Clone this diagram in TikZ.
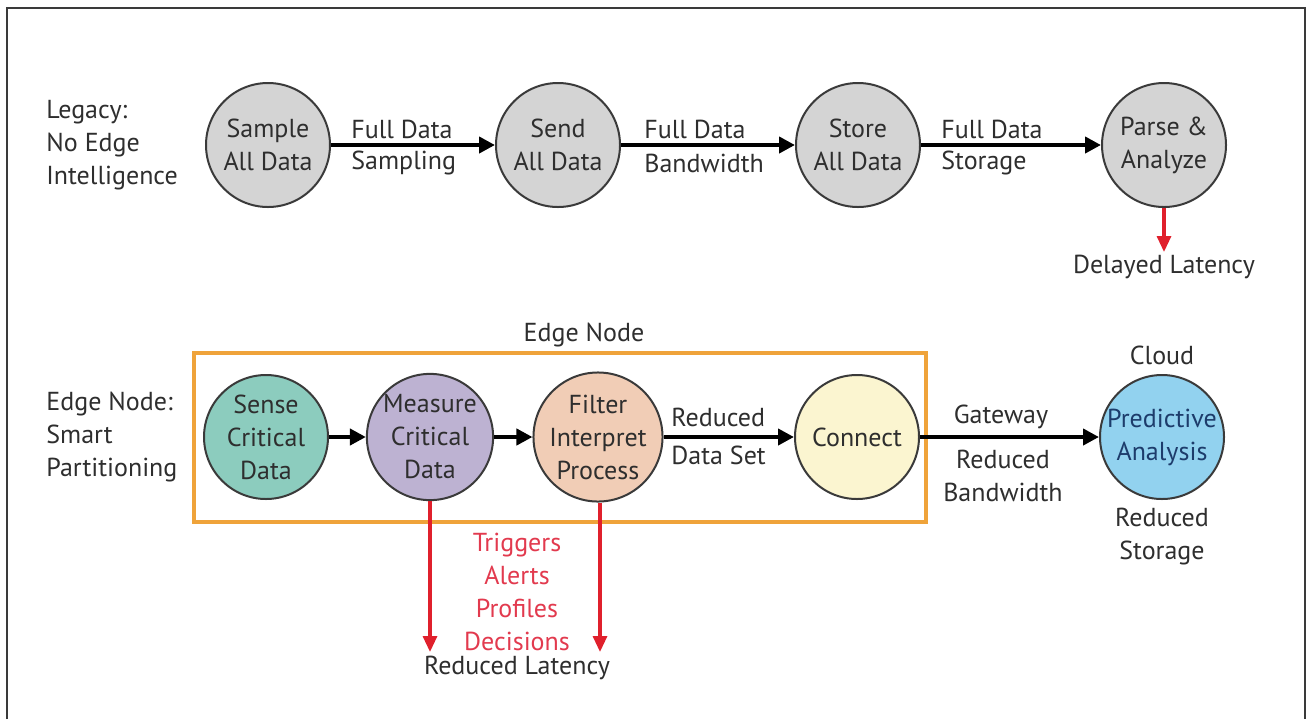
\documentclass[tikz,border=0pt]{standalone}
\usepackage{fontspec}
\setmainfont{PT Sans}
\usetikzlibrary{arrows.meta, positioning}
\definecolor{ink}{HTML}{2E2E2E}
\definecolor{rim}{HTML}{3A3A3A}
\definecolor{legacy}{HTML}{D4D4D4}
\definecolor{sense}{HTML}{8CCCBE}
\definecolor{measure}{HTML}{BDB2D2}
\definecolor{filter}{HTML}{F1CDB6}
\definecolor{connect}{HTML}{FBF5D0}
\definecolor{cloud}{HTML}{92D2EF}
\definecolor{cloudtext}{HTML}{1D3C6B}
\definecolor{edgeline}{HTML}{EFA33A}
\definecolor{alert}{HTML}{E0202C}
\definecolor{alerttext}{HTML}{E23A4E}
\tikzset{
  stage/.style={
    circle, draw=rim, line width=1pt, minimum size=62pt, inner sep=0pt,
    align=center, text=ink, font=\fontsize{13}{16.5}\selectfont,
  },
  stageg/.style={stage, fill=legacy},
  %
  flow/.style={draw=black, line width=2pt, -{Triangle[length=8pt, width=8pt]}},
  flowalert/.style={draw=alert, line width=1.6pt, -{Triangle[length=8pt, width=7pt]}},
  %
  lbl/.style={font=\fontsize{13}{16.5}\selectfont, text=ink, inner sep=1pt, align=left},
  lblc/.style={lbl, align=center},
  edgebox/.style={draw=edgeline, line width=2pt},
}

\begin{document}
\begin{tikzpicture}[x=0.5pt, y=-0.5pt]
  \useasboundingbox (0,0) rectangle (1312,719);
  \draw[rim, line width=1.2pt] (7,719) -- (7,8) -- (1305,8) -- (1305,719);

  % ---- legacy row -------------------------------------------------------
  \node[lbl, anchor=west] (legacy) at (44,145) {Legacy:\\No Edge\\Intelligence};

  \node[stageg] (sample) at (268,145) {Sample\\All Data};
  \node[stageg] (send)   at (558,145) {Send\\All Data};
  \node[stageg] (store)  at (858,145) {Store\\All Data};
  \node[stageg] (parse)  at (1164,145) {Parse \&\\Analyze};

  \draw[flow] (sample) -- (send);
  \draw[flow] (send) -- (store);
  \draw[flow] (store) -- (parse);

  \node[lbl, anchor=west] at (349,129) {Full Data};
  \node[lbl, anchor=west] at (349,163) {Sampling};
  \node[lbl, anchor=west] at (642,129) {Full Data};
  \node[lbl, anchor=west] at (642,163) {Bandwidth};
  \node[lbl, anchor=west] at (939,129) {Full Data};
  \node[lbl, anchor=west] at (939,163) {Storage};

  \coordinate (late) at (1164,252);
  \draw[flowalert] (parse) -- (late);
  \node[lblc] (delayed) at (1164,267) {Delayed Latency};

  % ---- edge row ---------------------------------------------------------
  \node[lbl, anchor=west] (smart) at (44,437) {Edge Node:\\Smart\\Partitioning};

  \draw[edgebox] (194,353) rectangle (926,522);
  \node[lblc] (edgetitle) at (584,335) {Edge Node};

  \node[stage, fill=sense]   (sensed)  at (266,437) {Sense\\Critical\\Data};
  \node[stage, fill=measure] (measured) at (430,437) {Measure\\Critical\\Data};
  \node[stage, fill=filter]  (filtered) at (598,437) {Filter\\Interpret\\Process};
  \node[stage, fill=connect] (connect)  at (857,437) {Connect};
  \node[stage, fill=cloud, text=cloudtext] (predict) at (1162,437) {Predictive\\Analysis};

  \draw[flow] (sensed) -- (measured);
  \draw[flow] (measured) -- (filtered);
  \draw[flow] (filtered) -- (connect);
  \draw[flow] (connect) -- (predict);

  \node[lbl, anchor=west] at (669,417) {Reduced};
  \node[lbl, anchor=west] at (669,455) {Data Set};
  \node[lblc] at (1001,417) {Gateway};
  \node[lblc] at (1003,476) {Reduced\\Bandwidth};
  \node[lblc] (cloudtitle) at (1162,355) {Cloud};
  \node[lblc] at (1162,537) {Reduced\\Storage};

  % ---- outputs at the edge ----------------------------------------------
  \coordinate (measureout) at (430,652);
  \coordinate (filterout) at (600,652);
  \draw[flowalert] (measured.south) -- (measureout);
  \draw[flowalert] (filtered.south -| filterout) -- (filterout);
  \node[lblc, text=alerttext] (events) at (517,592) {Triggers\\Alerts\\Profiles\\Decisions};
  \node[lblc] (reduced) at (517,668) {Reduced Latency};

\end{tikzpicture}
\end{document}
